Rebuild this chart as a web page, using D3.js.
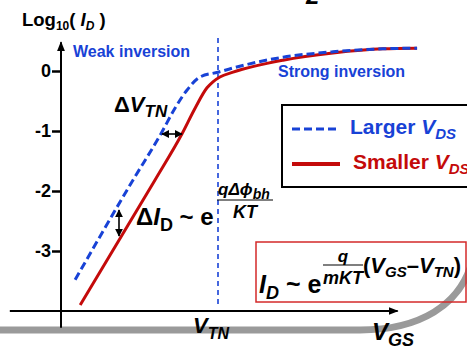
<!DOCTYPE html>
<html>
<head>
<meta charset="utf-8">
<script src="https://cdn.jsdelivr.net/npm/d3@7"></script>
<style>
  body { margin: 0; background: #fff; }
  svg { display: block; font-family: "Liberation Sans", Arial, sans-serif; font-weight: bold; }
</style>
</head>
<body>
<div id="chart"></div>
<script>
// data: x = V_GS (arbitrary units, V_TN = 5), y = log10(I_D)
var vtn = 5;
var yTicks = [0, -1, -2, -3];
var yTickLabels = ["0", "-1", "-2", "-3"];

var largerVds = [
  [0.45, -3.48], [2.29, -1.82], [3.18, -1.05], [3.63, -0.62], [4.01, -0.32],
  [4.43, -0.1], [5.0, -0.02], [5.48, 0.05], [7.07, 0.23], [8.66, 0.32],
  [10.25, 0.37], [11.34, 0.38]
];
var smallerVds = [
  [0.61, -3.9], [2.99, -1.82], [3.85, -1.05], [4.27, -0.62], [4.65, -0.28],
  [4.84, -0.18], [5.06, -0.1], [5.48, -0.02], [7.07, 0.18], [8.66, 0.3],
  [10.25, 0.37], [11.34, 0.38]
];
var seriesNames = ["Larger", "Smaller"];

var width = 467, height = 349;
var blue = "#1842d6", red = "#c40a0a";

var x = d3.scaleLinear().domain([0, 10]).range([61, 375]);
var y = d3.scaleLinear().domain([-3, 0]).range([251, 71]);

var svg = d3.select("#chart")
  .append("svg")
  .attr("width", width)
  .attr("height", height);

var defs = svg.append("defs");
defs.append("marker")
  .attr("id", "arr")
  .attr("viewBox", "0 0 10 10")
  .attr("refX", 9).attr("refY", 5)
  .attr("markerWidth", 10).attr("markerHeight", 10)
  .attr("markerUnits", "userSpaceOnUse")
  .attr("orient", "auto-start-reverse")
  .append("path")
  .attr("d", "M0,1 L10,5 L0,9 Z")
  .attr("fill", "#000");
defs.append("marker")
  .attr("id", "arrS")
  .attr("viewBox", "0 0 10 10")
  .attr("refX", 9).attr("refY", 5)
  .attr("markerWidth", 8).attr("markerHeight", 8)
  .attr("markerUnits", "userSpaceOnUse")
  .attr("orient", "auto-start-reverse")
  .append("path")
  .attr("d", "M0,0 L10,5 L0,10 Z")
  .attr("fill", "#000");

// gray sweep at the bottom
svg.append("path")
  .attr("d", "M-5,330 L360,330 C420,330 460,305 472,262")
  .attr("fill", "none")
  .attr("stroke", "#9a9a9a")
  .attr("stroke-width", 7);

// cut-off glyph at top (only its foot shows)
svg.append("text")
  .attr("x", 306).attr("y", 4)
  .attr("font-size", 24)
  .attr("font-style", "italic")
  .text("2");

// axes
svg.append("line")
  .attr("x1", x(0)).attr("x2", x(0))
  .attr("y1", y(-4.28)).attr("y2", y(0.48))
  .attr("stroke", "#000").attr("stroke-width", 2)
  .attr("marker-end", "url(#arr)");
svg.append("line")
  .attr("x1", x(-1.63)).attr("x2", x(10.72))
  .attr("y1", y(-4.0)).attr("y2", y(-4.0))
  .attr("stroke", "#000").attr("stroke-width", 2)
  .attr("marker-end", "url(#arr)");

var yAxis = svg.append("g")
  .attr("transform", "translate(" + x(0) + ",0)")
  .call(d3.axisLeft(y).tickValues(yTicks).tickSize(9).tickPadding(1)
    .tickFormat(function(d, i) { return yTickLabels[i]; }));
yAxis.select(".domain").remove();
yAxis.selectAll(".tick line").attr("stroke", "#000").attr("stroke-width", 2.5);
yAxis.selectAll(".tick text")
  .attr("fill", "#000")
  .attr("font-size", 18)
  .attr("font-weight", "bold")
  .attr("font-family", "Liberation Sans, Arial, sans-serif");

// V_TN dashed marker
svg.append("line")
  .attr("x1", x(vtn)).attr("x2", x(vtn))
  .attr("y1", y(0.55)).attr("y2", y(-3.95))
  .attr("stroke", blue).attr("stroke-width", 1.6)
  .attr("stroke-dasharray", "5,4");

var line = d3.line()
  .x(function(d) { return x(d[0]); })
  .y(function(d) { return y(d[1]); })
  .curve(d3.curveMonotoneX);

svg.append("path")
  .datum(smallerVds)
  .attr("d", line)
  .attr("fill", "none")
  .attr("stroke", red)
  .attr("stroke-width", 3);

svg.append("path")
  .datum(largerVds)
  .attr("d", line)
  .attr("fill", "none")
  .attr("stroke", blue)
  .attr("stroke-width", 3)
  .attr("stroke-dasharray", "8,4");

// annotations
var ylab = svg.append("text").attr("x", 22).attr("y", 26).attr("font-size", 18.5);
ylab.append("tspan").text("Log");
ylab.append("tspan").attr("dy", 4).attr("font-size", 12).text("10");
ylab.append("tspan").attr("dy", -4).text("( ");
ylab.append("tspan").attr("font-style", "italic").text("I");
ylab.append("tspan").attr("dy", 4).attr("font-size", 12).attr("font-style", "italic").text("D");
ylab.append("tspan").attr("dy", -4).text(" )");

svg.append("text").attr("x", 73).attr("y", 57).attr("font-size", 16)
  .attr("fill", blue).text("Weak inversion");
svg.append("text").attr("x", 278).attr("y", 77).attr("font-size", 16)
  .attr("fill", blue).text("Strong inversion");

// delta V_TN
var dv = svg.append("text").attr("x", 114).attr("y", 112).attr("font-size", 22);
dv.append("tspan").text("\u0394");
dv.append("tspan").attr("font-style", "italic").text("V");
dv.append("tspan").attr("dy", 5).attr("font-size", 17).attr("font-style", "italic").text("TN");
svg.append("line")
  .attr("x1", 162).attr("x2", 182).attr("y1", y(-1.05)).attr("y2", y(-1.05))
  .attr("stroke", "#000").attr("stroke-width", 1.6)
  .attr("marker-start", "url(#arrS)").attr("marker-end", "url(#arrS)");

// delta I_D
svg.append("line")
  .attr("x1", 119).attr("x2", 119).attr("y1", 210).attr("y2", 236)
  .attr("stroke", "#000").attr("stroke-width", 1.6)
  .attr("marker-start", "url(#arrS)").attr("marker-end", "url(#arrS)");
var di = svg.append("text").attr("x", 136).attr("y", 225).attr("font-size", 24);
di.append("tspan").text("\u0394");
di.append("tspan").attr("font-style", "italic").text("I");
di.append("tspan").attr("dy", 6).attr("font-size", 18).text("D");
di.append("tspan").attr("dy", -6).text(" ~ e");
var num = svg.append("text").attr("x", 218).attr("y", 195).attr("font-size", 17).attr("font-style", "italic");
num.append("tspan").text("q\u0394\u03d5");
num.append("tspan").attr("dy", 4).attr("font-size", 14).text("bh");
svg.append("line").attr("x1", 217).attr("x2", 273).attr("y1", 200).attr("y2", 200)
  .attr("stroke", "#000").attr("stroke-width", 1.2);
svg.append("text").attr("x", 245).attr("y", 218).attr("font-size", 18)
  .attr("font-style", "italic").attr("text-anchor", "middle").text("KT");

// legend
svg.append("rect").attr("x", 282).attr("y", 105).attr("width", 200).attr("height", 82)
  .attr("fill", "#fff").attr("stroke", "#000").attr("stroke-width", 2);
var legend = svg.selectAll(".leg")
  .data(seriesNames)
  .enter().append("g")
  .attr("class", "leg")
  .attr("transform", function(d, i) { return "translate(292," + (129 + i * 35) + ")"; });
legend.append("line")
  .attr("x1", 0).attr("x2", 48).attr("y1", 0).attr("y2", 0)
  .attr("stroke", function(d, i) { return i ? red : blue; })
  .attr("stroke-width", function(d, i) { return i ? 4 : 3; })
  .attr("stroke-dasharray", function(d, i) { return i ? null : "8,4"; });
var lt = legend.append("text")
  .attr("x", function(d, i) { return i ? 61 : 58; })
  .attr("y", 5)
  .attr("font-size", 21)
  .attr("fill", function(d, i) { return i ? red : blue; });
lt.append("tspan").text(function(d) { return d + " "; });
lt.append("tspan").attr("font-style", "italic").text("V");
lt.append("tspan").attr("dy", 5).attr("font-size", 15).attr("font-style", "italic").text("DS");

// formula box
svg.append("rect").attr("x", 256).attr("y", 242).attr("width", 210).attr("height", 60)
  .attr("fill", "none").attr("stroke", "#d42a2a").attr("stroke-width", 1.5);
var f = svg.append("text").attr("x", 259).attr("y", 293).attr("font-size", 25);
f.append("tspan").attr("font-style", "italic").text("I");
f.append("tspan").attr("dy", 6).attr("font-size", 18).attr("font-style", "italic").text("D");
f.append("tspan").attr("dy", -6).text(" ~ e");
svg.append("text").attr("x", 343).attr("y", 262).attr("font-size", 17)
  .attr("font-style", "italic").attr("text-anchor", "middle").text("q");
svg.append("line").attr("x1", 323).attr("x2", 363).attr("y1", 265).attr("y2", 265)
  .attr("stroke", "#000").attr("stroke-width", 1.2);
svg.append("text").attr("x", 343).attr("y", 284).attr("font-size", 18)
  .attr("font-style", "italic").attr("text-anchor", "middle").text("mKT");
var vg = svg.append("text").attr("x", 363).attr("y", 273).attr("font-size", 22);
vg.append("tspan").text("(");
vg.append("tspan").attr("font-style", "italic").text("V");
vg.append("tspan").attr("dy", 4).attr("font-size", 15).attr("font-style", "italic").text("GS");
vg.append("tspan").attr("dy", -4).text("\u2013");
vg.append("tspan").attr("font-style", "italic").text("V");
vg.append("tspan").attr("dy", 4).attr("font-size", 15).attr("font-style", "italic").text("TN");
vg.append("tspan").attr("dy", -4).text(")");

// x labels
var xv = svg.append("text").attr("x", 193).attr("y", 333).attr("font-size", 22).attr("font-style", "italic");
xv.append("tspan").text("V");
xv.append("tspan").attr("dy", 6).attr("font-size", 16).text("TN");
var xg = svg.append("text").attr("x", 372).attr("y", 340).attr("font-size", 24).attr("font-style", "italic");
xg.append("tspan").text("V");
xg.append("tspan").attr("dy", 6).attr("font-size", 18).text("GS");
</script>
</body>
</html>
